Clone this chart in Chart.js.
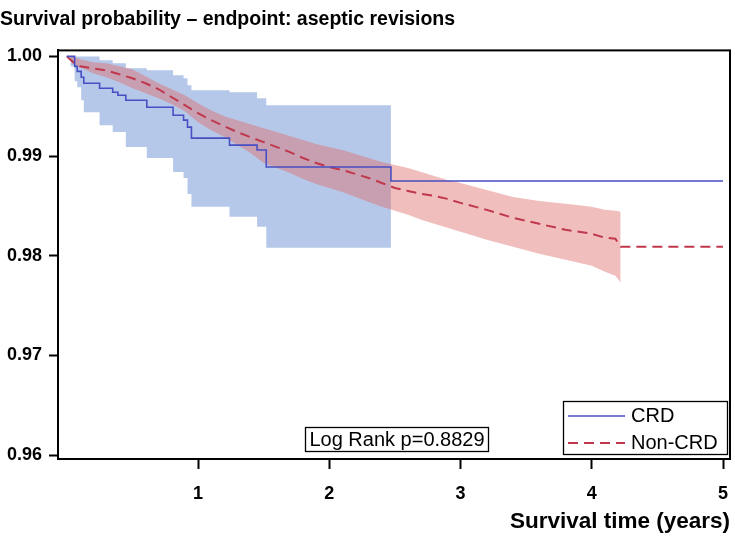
<!DOCTYPE html>
<html>
<head>
<meta charset="utf-8">
<script src="https://cdn.jsdelivr.net/npm/chart.js@4"></script>
<style>
  body { margin: 0; background: #fff; }
  #wrap { position: relative; width: 735px; height: 543px; }
</style>
</head>
<body>
<div id="wrap"><canvas id="survival-chart" width="735" height="543"></canvas></div>
<script>
const chartTitle = "Survival probability – endpoint: aseptic revisions"
const xTitle = "Survival time (years)"
const logRankText = "Log Rank p=0.8829"

// Marcas dos eixos
const xTicks = [1, 2, 3, 4, 5]
const yTicks = [0.96, 0.97, 0.98, 0.99, 1.0]

// CRD: curva de Kaplan-Meier (degraus)
const crdTime = [0, 0.06, 0.08, 0.11, 0.13, 0.25, 0.35, 0.39, 0.45, 0.61, 0.81, 0.89, 0.92, 0.95, 1.24, 1.45, 1.52, 2.47, 5.0]
const crdSurv = [1.0, 0.999, 0.9985, 0.9979, 0.9973, 0.9968, 0.9964, 0.9961, 0.9956, 0.9949, 0.9941, 0.9936, 0.9929, 0.9918, 0.9911, 0.9906, 0.9889, 0.9875, 0.9875]

// CRD: intervalo de confiança
const crdBandTime = [0, 0.03, 0.06, 0.08, 0.11, 0.13, 0.25, 0.35, 0.45, 0.61, 0.81, 0.89, 0.92, 0.95, 1.24, 1.45, 1.52, 2.47]
const crdUpper = [1.0, 1.0, 1.0, 1.0, 1.0, 1.0, 0.9996, 0.9993, 0.9988, 0.9986, 0.9981, 0.9978, 0.9971, 0.9966, 0.9964, 0.9958, 0.9951, 0.9951]
const crdLower = [1.0, 0.999, 0.9975, 0.9969, 0.9956, 0.9944, 0.9931, 0.9924, 0.9909, 0.9898, 0.9884, 0.9878, 0.9862, 0.9849, 0.9839, 0.9829, 0.9808, 0.9808]

// Non-CRD: curva de Kaplan-Meier
const nonCrdTime = [0, 0.05, 0.1, 0.2, 0.3, 0.4, 0.5, 0.6, 0.7, 0.8, 0.9, 1.0, 1.1, 1.2, 1.3, 1.4, 1.5, 1.6, 1.7, 1.8, 1.9, 2.0, 2.1, 2.2, 2.3, 2.4, 2.5, 2.6, 2.7, 2.8, 2.9, 3.0, 3.2, 3.4, 3.6, 3.8, 4.0, 4.1, 4.18, 4.22, 5.0]
const nonCrdSurv = [1.0, 0.9994, 0.999, 0.9988, 0.9986, 0.9982, 0.9978, 0.9973, 0.9967, 0.9959, 0.9951, 0.9943, 0.9936, 0.993, 0.9924, 0.9919, 0.9914, 0.9909, 0.9904, 0.9898, 0.9893, 0.9889, 0.9886, 0.9882, 0.9878, 0.9873, 0.9868, 0.9865, 0.9862, 0.986, 0.9857, 0.9853, 0.9846, 0.9838, 0.9832, 0.9826, 0.9822, 0.9818, 0.9817, 0.9809, 0.9809]

// Non-CRD: intervalo de confiança (até 4.22 anos)
const nonCrdBandTime = [0, 0.05, 0.1, 0.2, 0.3, 0.4, 0.5, 0.6, 0.7, 0.8, 0.9, 1.0, 1.1, 1.2, 1.3, 1.4, 1.5, 1.6, 1.7, 1.8, 1.9, 2.0, 2.1, 2.2, 2.3, 2.4, 2.5, 2.6, 2.7, 2.8, 2.9, 3.0, 3.2, 3.4, 3.6, 3.8, 4.0, 4.1, 4.18, 4.22]
const nonCrdUpper = [1.0, 1.0, 0.9997, 0.9994, 0.9993, 0.999, 0.9987, 0.998, 0.9973, 0.9967, 0.9961, 0.9953, 0.9946, 0.994, 0.9936, 0.9932, 0.9928, 0.9924, 0.992, 0.9916, 0.9912, 0.9909, 0.9906, 0.9902, 0.9898, 0.9894, 0.9891, 0.9888, 0.9884, 0.988, 0.9876, 0.9873, 0.9866, 0.9859, 0.9855, 0.9852, 0.9849, 0.9846, 0.9845, 0.9844]
const nonCrdLower = [1.0, 0.9992, 0.9989, 0.9983, 0.9979, 0.9974, 0.9968, 0.9963, 0.9958, 0.9952, 0.9945, 0.9934, 0.9926, 0.9919, 0.9911, 0.9903, 0.9893, 0.9888, 0.9883, 0.9877, 0.9872, 0.9868, 0.9864, 0.9859, 0.9854, 0.9849, 0.9845, 0.9841, 0.9836, 0.9832, 0.9828, 0.9824, 0.9816, 0.9809, 0.9802, 0.9796, 0.979, 0.9784, 0.978, 0.9773]

const fontFamily = "'Liberation Sans', Arial, Helvetica, sans-serif"
Chart.defaults.font.family = fontFamily
Chart.defaults.color = "#000"

function toPoints(xs, ys) {
  return xs.map((x, i) => ({ x: x, y: ys[i] }))
}

// Moldura, caixa do log-rank e legenda desenhadas sobre o gráfico
const framePlugin = {
  id: "framePlugin",
  afterDraw(chart) {
    const { ctx, chartArea } = chart
    ctx.save()
    ctx.strokeStyle = "#000"
    ctx.lineWidth = 2
    ctx.strokeRect(chartArea.left, chartArea.top, chartArea.right - chartArea.left, chartArea.bottom - chartArea.top)

    ctx.lineWidth = 1.3
    ctx.fillStyle = "#000"
    ctx.font = "20px " + fontFamily
    ctx.textBaseline = "middle"

    // Caixa Log Rank
    ctx.strokeRect(305.5, 427.5, 183, 24)
    ctx.textAlign = "center"
    ctx.fillText(logRankText, 397, 440)

    // Legenda
    ctx.strokeRect(563.5, 401.5, 164, 53)
    const items = chart.data.datasets.slice(0, 2)
    items.forEach((ds, i) => {
      const y = 416 + i * 27
      ctx.save()
      ctx.strokeStyle = ds.borderColor
      ctx.lineWidth = ds.borderWidth
      ctx.setLineDash(ds.borderDash || [])
      ctx.beginPath()
      ctx.moveTo(568, y)
      ctx.lineTo(625, y)
      ctx.stroke()
      ctx.restore()
      ctx.textAlign = "left"
      ctx.fillText(ds.label, 631, y)
    })
    ctx.restore()
  },
}

const ctx = document.getElementById("survival-chart").getContext("2d")

new Chart(ctx, {
  type: "line",
  data: {
    datasets: [
      {
        label: "CRD",
        data: toPoints(crdTime, crdSurv),
        borderColor: "#474fc2",
        borderWidth: 1.6,
        stepped: true,
        pointRadius: 0,
        fill: false,
      },
      {
        label: "Non-CRD",
        data: toPoints(nonCrdTime, nonCrdSurv),
        borderColor: "#c0384c",
        borderWidth: 2,
        borderDash: [10, 6],
        pointRadius: 0,
        fill: false,
      },
      {
        label: "Non-CRD upper",
        data: toPoints(nonCrdBandTime, nonCrdUpper),
        borderWidth: 0,
        pointRadius: 0,
        backgroundColor: "rgba(225, 110, 110, 0.45)",
        fill: "+1",
      },
      {
        label: "Non-CRD lower",
        data: toPoints(nonCrdBandTime, nonCrdLower),
        borderWidth: 0,
        pointRadius: 0,
        fill: false,
      },
      {
        label: "CRD upper",
        data: toPoints(crdBandTime, crdUpper),
        borderWidth: 0,
        stepped: true,
        pointRadius: 0,
        backgroundColor: "rgba(120, 155, 215, 0.55)",
        fill: "+1",
      },
      {
        label: "CRD lower",
        data: toPoints(crdBandTime, crdLower),
        borderWidth: 0,
        stepped: true,
        pointRadius: 0,
        fill: false,
      },
    ],
  },
  options: {
    responsive: false,
    animation: false,
    layout: { padding: { left: 0, right: 5, top: 0, bottom: 0 } },
    plugins: {
      legend: { display: false },
      tooltip: { enabled: false },
      title: {
        display: true,
        text: chartTitle,
        align: "start",
        color: "#000",
        font: { size: 19.5, weight: "bold" },
        padding: { top: 8, bottom: 19 },
      },
    },
    scales: {
      x: {
        type: "linear",
        min: -0.0667,
        max: 5.0533,
        afterBuildTicks: (scale) => {
          scale.ticks = xTicks.map((v) => ({ value: v }))
        },
        afterFit: (scale) => {
          scale.height = 84
          scale.paddingLeft = 0
          scale.paddingRight = 0
        },
        ticks: {
          color: "#000",
          font: { size: 18, weight: "bold" },
          padding: 14,
          maxRotation: 0,
          callback: (v) => String(v),
        },
        grid: {
          drawOnChartArea: false,
          drawTicks: true,
          tickLength: 10,
          tickWidth: 2,
          tickColor: "#000",
        },
        border: { display: true, color: "#000", width: 2 },
        title: {
          display: true,
          text: xTitle,
          align: "end",
          color: "#000",
          font: { size: 22.5, weight: "bold" },
          padding: { top: 0, bottom: 8 },
        },
      },
      y: {
        type: "linear",
        min: 0.9596,
        max: 1.0006,
        afterBuildTicks: (scale) => {
          scale.ticks = yTicks.map((v) => ({ value: v }))
        },
        afterFit: (scale) => {
          scale.width = 58
          scale.paddingTop = 0
          scale.paddingBottom = 0
        },
        ticks: {
          color: "#000",
          font: { size: 18, weight: "bold" },
          padding: 7,
          callback: (v) => v.toFixed(2),
        },
        grid: {
          drawOnChartArea: false,
          drawTicks: true,
          tickLength: 9,
          tickWidth: 2,
          tickColor: "#000",
        },
        border: { display: true, color: "#000", width: 2 },
      },
    },
  },
  plugins: [framePlugin],
})
</script>
</body>
</html>
